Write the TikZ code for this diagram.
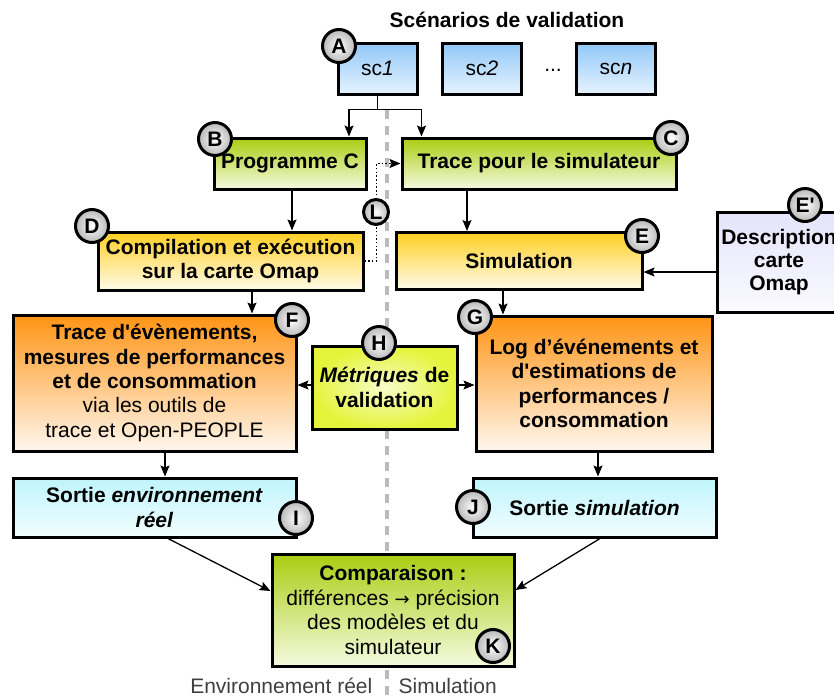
\documentclass[tikz,border=0pt]{standalone}
\usepackage{fontspec}
\setmainfont{Liberation Sans}
\newfontfamily\arrowfont{DejaVu Sans}
\usetikzlibrary{arrows.meta, positioning}

\definecolor{scTop}{HTML}{92C8F7}
\definecolor{scBot}{HTML}{E6F3FF}
\definecolor{grTop}{HTML}{ABCD12}
\definecolor{grBot}{HTML}{F4FADF}
\definecolor{ylTop}{HTML}{FFCF22}
\definecolor{ylBot}{HTML}{FFFBEA}
\definecolor{orTop}{HTML}{FF9414}
\definecolor{orBot}{HTML}{FFF7EE}
\definecolor{lvTop}{HTML}{E4E4FA}
\definecolor{lvBot}{HTML}{FAFAFF}
\definecolor{cyTop}{HTML}{BFF4FC}
\definecolor{cyBot}{HTML}{F2FEFF}
\definecolor{mtOut}{HTML}{E4F43A}
\definecolor{mtIn}{HTML}{F8FDC8}
\definecolor{sepGray}{HTML}{BBBBBB}

\begin{document}
\begin{tikzpicture}[->, >={Stealth[length=5.5pt,width=4.5pt,inset=1pt]}, line width=0.65pt,
  x=0.5pt, y=-0.5pt, font=\fontsize{10.5}{12.2}\selectfont]
\tikzstyle{box}=[draw, rectangle, line width=1.5pt, inner sep=2pt, align=center, font=\fontsize{10.5}{12.2}\selectfont\bfseries]
\tikzstyle{scbox}=[box, top color=scTop, bottom color=scBot, minimum width=39.5pt, minimum height=25.5pt, font=\fontsize{10.5}{12.2}\selectfont]
\tikzstyle{tag}=[draw, circle, line width=1.5pt, minimum size=16.5pt, inner sep=0pt, inner color=white, outer color=black!28, font=\fontsize{10.5}{12}\selectfont\bfseries]
\tikzstyle{side}=[inner sep=0pt, text=black!75]

\clip (0,0) rectangle (834,697);

% separation reel / simulation
\draw[-, sepGray, line width=1.75pt, dash pattern=on 4.5pt off 3.5pt] (387,110) -- (387,697);

\node[font=\fontsize{10.5}{12}\selectfont\bfseries] (title) at (507,20) {Scénarios de validation};
\node[scbox] (sc1) at (377.5,68.5) {sc\textit{1}};
\node[scbox] (sc2) at (482,68.5) {sc\textit{2}};
\node (dots) at (553,70) {...};
\node[scbox] (scn) at (616,68.5) {sc\textit{n}};

\node[box, top color=grTop, bottom color=grBot, minimum width=76pt, minimum height=25.5pt] (progC) at (290,163.5) {Programme C};
\node[box, top color=grTop, bottom color=grBot, minimum width=137pt, minimum height=25.5pt] (trace) at (539,163.5) {Trace pour le simulateur};
\node[box, top color=ylTop, bottom color=ylBot, minimum width=132.5pt, minimum height=29pt] (compil) at (230.5,261) {Compilation et exécution\\sur la carte Omap};
\node[box, top color=ylTop, bottom color=ylBot, minimum width=123pt, minimum height=28.5pt] (simu) at (519,261) {Simulation};
\node[box, top color=lvTop, bottom color=lvBot, minimum width=62pt, minimum height=50pt, font=\fontsize{10.5}{11.3}\selectfont\bfseries] (descr) at (779,262) {Description\\carte\\Omap};

\node[box, top color=orTop, bottom color=orBot, minimum width=141.5pt, minimum height=68pt] (trEnv) at (154.5,383) {Trace d\textquotesingle évènements,\\mesures de performances\\et de consommation\\\mdseries via les outils de\\\mdseries trace et Open-PEOPLE};
\node[box, top color=orTop, bottom color=orBot, minimum width=118pt, minimum height=67.5pt] (logSim) at (594,383.5) {Log d’événements et\\d\textquotesingle estimations de\\performances /\\consommation};
\node[box, inner color=mtIn, outer color=mtOut, minimum width=72.5pt, minimum height=41.5pt] (metric) at (384.5,387.5) {\textit{Métriques} de\\validation};

\node[box, top color=cyTop, bottom color=cyBot, minimum width=141.5pt, minimum height=29.5pt] (outEnv) at (154.5,507.5) {Sortie \textit{environnement}\\\textit{réel}};
\node[box, top color=cyTop, bottom color=cyBot, minimum width=121.5pt, minimum height=29.5pt] (outSim) at (594.5,507.5) {Sortie \textit{simulation}};
\node[box, top color=grTop, bottom color=grBot, minimum width=121pt, minimum height=56pt] (compar) at (393,610) {Comparaison :\\\mdseries différences {\arrowfont\fontsize{9}{10}\selectfont →} précision\\\mdseries des modèles et du\\\mdseries simulateur};

\node[side, anchor=east] (envLbl) at (373,686) {Environnement réel};
\node[side, anchor=west] (simLbl) at (398,686) {Simulation};

% liens
\draw[-] (sc1.south) -- ++(0,14) coordinate (split);
\draw (split) -| ([xshift=29.5pt]progC.north);
\draw (split) -| ([xshift=10.5pt]trace.north west);
\draw ([xshift=1pt]progC.south) -- ([xshift=1pt]progC.south |- compil.north);
\draw ([xshift=-36pt]trace.south) -- ([xshift=-36pt]trace.south |- simu.north);
\draw ([yshift=-5pt]descr.west) -- ([yshift=-5pt]descr.west -| simu.east);
\draw[line width=0.75pt, dash pattern=on 0.75pt off 1.1pt] (compil.east) -- ++(12,0) |- (trace.west);
\draw ([xshift=10.75pt]compil.south) -- ([xshift=10.75pt]compil.south |- trEnv.north);
\draw ([xshift=-8pt]simu.south) -- ([xshift=-8pt]simu.south |- logSim.north);
\draw ([yshift=1.25pt]metric.west) -- ([yshift=1.25pt]metric.west -| trEnv.east);
\draw ([yshift=1.25pt]metric.east) -- ([yshift=1.25pt]metric.east -| logSim.west);
\draw ([xshift=5.25pt]trEnv.south) -- ([xshift=5.25pt]trEnv.south |- outEnv.north);
\draw ([xshift=2pt]logSim.south) -- ([xshift=2pt]logSim.south |- outSim.north);
\draw ([xshift=6.75pt]outEnv.south) -- ([yshift=9.5pt]compar.west);
\draw ([xshift=2.75pt]outSim.south) -- ([yshift=10pt]compar.east);

% reperes
\node[tag] (tA) at (339,46) {A};
\node[tag] (tB) at (215,139) {B};
\node[tag] (tC) at (671,138) {C};
\node[tag] (tD) at (92,226) {D};
\node[tag] (tE) at (642,236) {E};
\node[tag] (tE2) at (805,205) {E\textquotesingle};
\node[tag] (tF) at (292,320) {F};
\node[tag] (tG) at (475,317) {G};
\node[tag] (tH) at (379,343) {H};
\node[tag] (tI) at (296,518) {I};
\node[tag] (tJ) at (473,507) {J};
\node[tag] (tK) at (493,646) {K};
\node[tag, minimum size=12.5pt] (tL) at (376,212) {L};
\end{tikzpicture}
\end{document}
